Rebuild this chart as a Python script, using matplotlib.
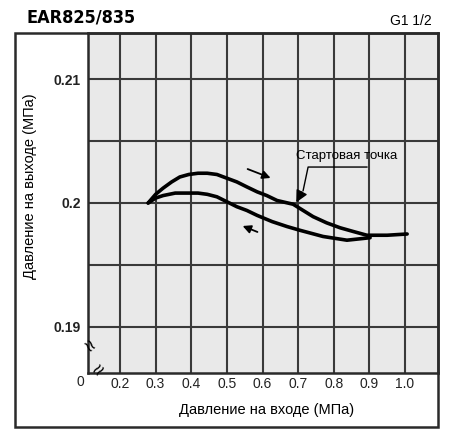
import matplotlib
matplotlib.use("Agg")
import matplotlib.pyplot as plt
from matplotlib.patches import Rectangle

plt.rcParams["font.family"] = ["Liberation Sans", "DejaVu Sans"]

# inlet pressure (MPa) -> outlet pressure (MPa)
up_x = [0.279, 0.300, 0.321, 0.345, 0.368, 0.393, 0.419, 0.445, 0.472, 0.500, 0.528,
        0.556, 0.585, 0.612, 0.641, 0.686, 0.742, 0.780, 0.818, 0.855, 0.893, 0.950, 1.006]
up_y = [0.2000, 0.2007, 0.2012, 0.2017, 0.2021, 0.2023, 0.2024, 0.2024, 0.2023, 0.2020, 0.2017,
        0.2013, 0.2009, 0.2006, 0.2002, 0.1999, 0.1989, 0.1984, 0.1980, 0.1977, 0.1974, 0.1974, 0.1975]
down_x = [0.279, 0.300, 0.321, 0.355, 0.388, 0.419, 0.445, 0.472, 0.500, 0.528, 0.556,
          0.585, 0.627, 0.669, 0.705, 0.770, 0.837, 0.902]
down_y = [0.2000, 0.2004, 0.2006, 0.2008, 0.2008, 0.2008, 0.2007, 0.2005, 0.2001, 0.1997, 0.1994,
          0.1990, 0.1985, 0.1981, 0.1978, 0.1973, 0.1970, 0.1972]

x_ticks = [0.2, 0.3, 0.4, 0.5, 0.6, 0.7, 0.8, 0.9, 1.0]
x_labels = ["0.2", "0.3", "0.4", "0.5", "0.6", "0.7", "0.8", "0.9", "1.0"]
y_ticks = [0.19, 0.2, 0.21]
y_labels = ["0.19", "0.2", "0.21"]
y_minor = [0.195, 0.205]

fig = plt.figure(figsize=(4.5, 4.3), dpi=100)
W, H = 450, 430
ax = fig.add_axes([88 / W, 1 - 373 / H, 350 / W, 340 / H])
ax.set_facecolor("#e9e9e9")
ax.set_xlim(0.1102, 1.0926)
ax.set_ylim(0.18629, 0.21371)

ax.set_xticks(x_ticks)
ax.set_xticklabels(x_labels)
ax.set_yticks(y_ticks)
ax.set_yticklabels(y_labels, fontweight="bold")
ax.set_yticks(y_minor, minor=True)
ax.tick_params(length=0, labelsize=10, colors="#222222", pad=5)
ax.tick_params(axis="x", pad=3)
ax.tick_params(which="minor", length=0)
ax.grid(True, which="both", color="#3a3a3a", lw=1.5, zorder=0)
ax.set_axisbelow(True)
for s in ax.spines.values():
    s.set_linewidth(1.8)
    s.set_color("#2a2a2a")

ax.plot(up_x, up_y, color="black", lw=2.6, solid_capstyle="round", zorder=3)
ax.plot(down_x, down_y, color="black", lw=2.6, solid_capstyle="round", zorder=3)

# flow direction arrows
ax.annotate("", xy=(0.630, 0.20194), xytext=(0.551, 0.20282),
            arrowprops=dict(arrowstyle="-|>", color="black", lw=1.3, mutation_scale=12))
ax.annotate("", xy=(0.537, 0.19823), xytext=(0.593, 0.19758),
            arrowprops=dict(arrowstyle="-|>", color="black", lw=1.3, mutation_scale=12))

# start point callout
ax.text(0.837, 0.2038, "Стартовая точка", ha="center", va="center", fontsize=9.5, zorder=4)
ax.plot([0.893, 0.728, 0.714], [0.2029, 0.2029, 0.2010], color="black", lw=1.0, zorder=4)
ax.annotate("", xy=(0.691, 0.19985), xytext=(0.714, 0.2011),
            arrowprops=dict(arrowstyle="-|>", color="black", lw=1.0, mutation_scale=18))

# axis break marks and origin
fig.text(80 / W, 1 - 382 / H, "0", ha="center", va="center", fontsize=10, color="#222222")
fig.text(88 / W, 1 - 346 / H, "≈", ha="center", va="center", fontsize=15, rotation=-50)
fig.text(100 / W, 1 - 370 / H, "≈", ha="center", va="center", fontsize=15, rotation=50)

# outer frame
fig.add_artist(Rectangle((15 / W, 1 - 427 / H), 423 / W, 394 / H, transform=fig.transFigure,
                         fill=False, lw=1.8, edgecolor="#2a2a2a"))

fig.text(27 / W, 1 - 22 / H, "EAR825/835", fontsize=13, fontweight="heavy", va="baseline",
         family="DejaVu Sans", fontstretch="condensed")
fig.text(432 / W, 1 - 25 / H, "G1 1/2", fontsize=10, ha="right", va="baseline")
fig.text(30 / W, 1 - 186 / H, "Давление на выходе (МПа)", rotation=90, ha="center",
         va="center", fontsize=10.5)
fig.text(267 / W, 1 - 410 / H, "Давление на входе (МПа)", ha="center", va="center",
         fontsize=10.5)

fig.savefig("out.png", dpi=100)
